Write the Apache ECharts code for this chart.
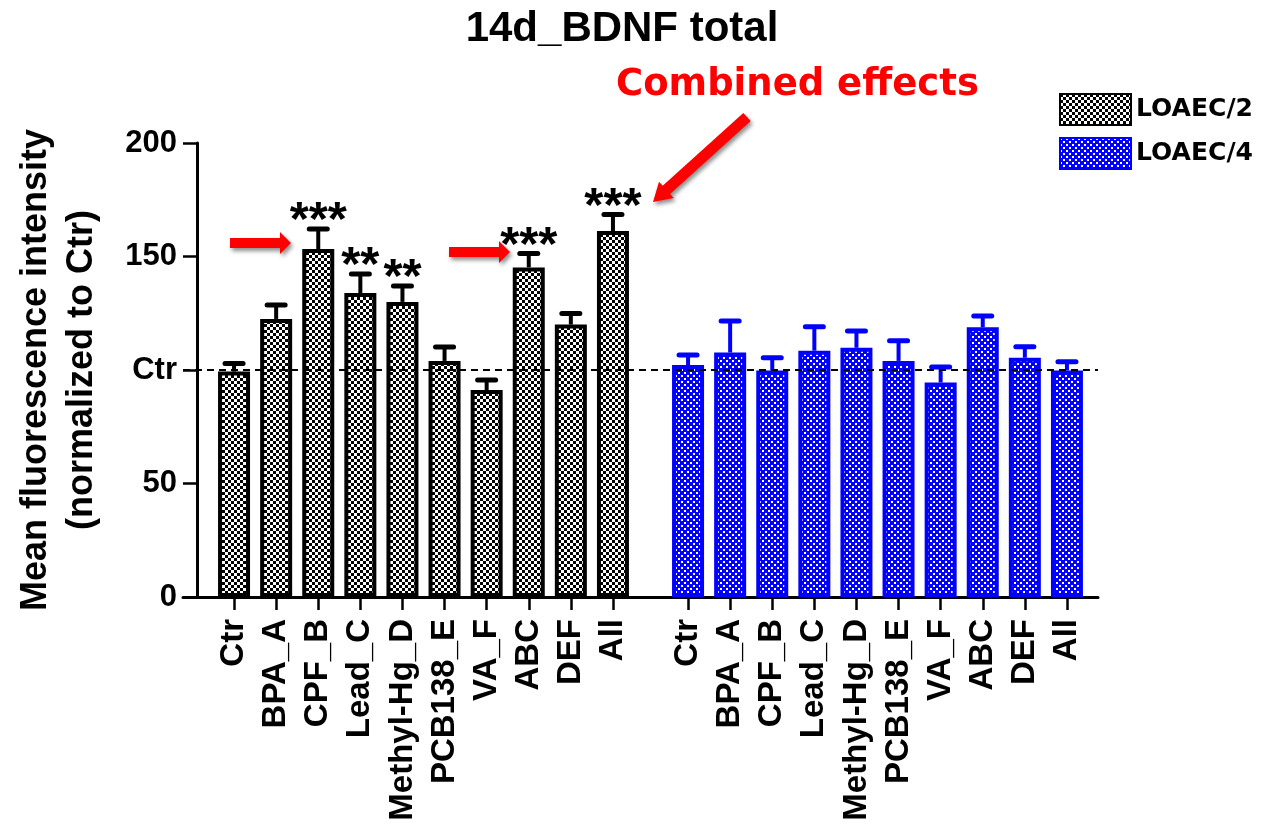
<!DOCTYPE html>
<html>
<head>
<meta charset="utf-8">
<script src="https://cdn.jsdelivr.net/npm/echarts@6/dist/echarts.min.js"></script>
<style>html,body{margin:0;padding:0;background:#fff;}#c{width:1281px;height:831px;}</style>
</head>
<body>
<div id="c"></div>
<script>
// ---- data ----
var categories = ['Ctr','BPA_A','CPF_B','Lead_C','Methyl-Hg_D','PCB138_E','VA_F','ABC','DEF','All'];
var loaec2Mean = [99.3, 122.5, 153.3, 133.9, 130.0, 104.0, 91.2, 145.2, 120.0, 161.2];
var loaec2Err  = [3.6, 6.1, 8.8, 8.4, 7.0, 6.1, 4.4, 6.1, 4.9, 7.3];
var loaec2Sig  = ['', '', '***', '**', '**', '', '', '***', '', '***'];
var loaec4Mean = [102.2, 107.7, 99.8, 108.5, 109.8, 104.0, 94.5, 118.8, 105.4, 99.8];
var loaec4Err  = [4.4, 13.9, 5.6, 10.6, 7.4, 8.9, 6.8, 5.0, 4.8, 3.8];
var yTicks = [0, 50, 100, 150, 200];
var yTickLabels = ['0', '50', 'Ctr', '150', '200'];
var seriesNames = ['LOAEC/2', 'LOAEC/4'];

function makePattern(fg, bg, cells) {
  var cv = document.createElement('canvas');
  cv.width = 6; cv.height = 6;
  var ctx = cv.getContext('2d');
  ctx.fillStyle = bg; ctx.fillRect(0, 0, 6, 6);
  ctx.fillStyle = fg;
  cells.forEach(function (c) { ctx.fillRect(c[0], c[1], c[2], c[3]); });
  return { image: cv, repeat: 'repeat' };
}
var blackPat = makePattern('#000', '#fff', [[0,0,3,3],[3,3,3,3]]);
var bluePat = makePattern('#fff', '#0000ff', [[0,0,2,2],[3,3,2,2]]);

var FONT = '"Liberation Sans", Arial, sans-serif';

function errRender(color) {
  return function (params, api) {
    var idx = api.value(0);
    var top = api.coord([idx, api.value(1) + api.value(2)]);
    var base = api.coord([idx, api.value(1)]);
    var sig = api.value(3);
    var children = [
      { type: 'line', shape: { x1: base[0], y1: base[1], x2: top[0], y2: top[1] },
        style: { stroke: color, lineWidth: 4 } },
      { type: 'line', shape: { x1: top[0] - 9, y1: top[1], x2: top[0] + 9, y2: top[1] },
        style: { stroke: color, lineWidth: 5, lineCap: 'round' } }
    ];
    if (sig) {
      children.push({ type: 'text', x: top[0], y: top[1] + 17,
        style: { text: sig, fill: '#000', font: 'bold 49px ' + FONT, align: 'center', verticalAlign: 'bottom' } });
    }
    return { type: 'group', children: children };
  };
}

var errData2 = categories.map(function (c, i) { return [i, loaec2Mean[i], loaec2Err[i], loaec2Sig[i]]; });
var errData4 = categories.map(function (c, i) { return [i, loaec4Mean[i], loaec4Err[i], '']; });

var chart = echarts.init(document.getElementById('c'), null, { renderer: 'canvas' });

var xLabelStyle = { rotate: 90, fontFamily: FONT, fontWeight: 'bold', fontSize: 33, color: '#000', margin: 22, interval: 0 };
var xTick = { show: true, alignWithLabel: true, length: 13, lineStyle: { color: '#000', width: 2.5 } };

chart.setOption({
  animation: false,
  title: [
    { text: '14d_BDNF total', left: 617, top: 3, textAlign: 'center',
      textStyle: { fontFamily: FONT, fontWeight: 'bold', fontSize: 42, color: '#000' } },
    { text: 'Combined effects', left: 611, top: 62,
      textStyle: { fontFamily: '"DejaVu Sans", sans-serif', fontWeight: 'bold', fontSize: 37, color: '#ff0000' } }
  ],
  legend: {
    orient: 'vertical', left: 1059, top: 93, padding: 0, itemWidth: 71, itemHeight: 31, itemGap: 11,
    icon: 'rect', selectedMode: false,
    textStyle: { fontFamily: '"DejaVu Sans", sans-serif', fontWeight: 'bold', fontSize: 25, color: '#000' },
    data: seriesNames
  },
  grid: [
    { left: 183, top: 143, width: 915, height: 454, outerBoundsMode: 'none', containLabel: false },
    { left: 213, top: 143, width: 421, height: 454, outerBoundsMode: 'none', containLabel: false },
    { left: 667, top: 143, width: 421, height: 454, outerBoundsMode: 'none', containLabel: false }
  ],
  xAxis: [
    { gridIndex: 0, type: 'value', min: 0, max: 1, axisLine: { show: true, lineStyle: { color: '#000', width: 3 } },
      axisTick: { show: false }, axisLabel: { show: false }, splitLine: { show: false } },
    { gridIndex: 1, type: 'category', data: categories, axisLine: { show: false }, axisTick: xTick, axisLabel: xLabelStyle },
    { gridIndex: 2, type: 'category', data: categories, axisLine: { show: false }, axisTick: xTick, axisLabel: xLabelStyle }
  ],
  yAxis: [
    { gridIndex: 0, type: 'value', min: 0, max: 200, show: false },
    { gridIndex: 1, type: 'value', min: 0, max: 200, interval: 50, offset: 16,
      axisLine: { show: true, lineStyle: { color: '#000', width: 3 } },
      axisTick: { show: true, length: 14, lineStyle: { color: '#000', width: 2.5 } },
      splitLine: { show: false },
      axisLabel: { fontFamily: FONT, fontWeight: 'bold', fontSize: 31, color: '#000', margin: 20,
        formatter: function (v) { var k = yTicks.indexOf(v); return k >= 0 ? yTickLabels[k] : ''; } },
      name: 'Mean fluorescence intensity\n(normalized to Ctr)', nameLocation: 'middle', nameGap: 92, nameRotate: 90,
      nameTextStyle: { fontFamily: FONT, fontWeight: 'bold', fontSize: 36, color: '#000', lineHeight: 46 } },
    { gridIndex: 2, type: 'value', min: 0, max: 200, show: false }
  ],
  series: [
    { type: 'line', xAxisIndex: 0, yAxisIndex: 0, data: [], z: 1, silent: true,
      markLine: { symbol: 'none', silent: true, label: { show: false },
        lineStyle: { color: '#000', width: 2, type: [7, 5] }, data: [{ yAxis: 100 }] } },
    { name: seriesNames[0], type: 'bar', xAxisIndex: 1, yAxisIndex: 1, data: loaec2Mean, barWidth: 32, z: 3,
      itemStyle: { color: blackPat, borderColor: '#000', borderWidth: 4 } },
    { name: seriesNames[1], type: 'bar', xAxisIndex: 2, yAxisIndex: 2, data: loaec4Mean, barWidth: 32, z: 3,
      itemStyle: { color: bluePat, borderColor: '#0000ff', borderWidth: 4 } },
    { type: 'custom', xAxisIndex: 1, yAxisIndex: 1, data: errData2, renderItem: errRender('#000'), z: 4, silent: true },
    { type: 'custom', xAxisIndex: 2, yAxisIndex: 2, data: errData4, renderItem: errRender('#0000ff'), z: 4, silent: true }
  ],
  graphic: [
    { type: 'polygon', z: 10, shape: { points: [[230,238],[280,238],[280,232],[291,243],[280,254],[280,248],[230,248]] },
      style: { fill: '#ff0000', shadowBlur: 4, shadowColor: 'rgba(0,0,0,0.45)', shadowOffsetX: 2, shadowOffsetY: 3 } },
    { type: 'polygon', z: 10, shape: { points: [[449,247],[499,247],[499,241],[510,252],[499,263],[499,257],[449,257]] },
      style: { fill: '#ff0000', shadowBlur: 4, shadowColor: 'rgba(0,0,0,0.45)', shadowOffsetX: 2, shadowOffsetY: 3 } },
    { type: 'polygon', z: 10, shape: { points: [[743.3,112.9],[662.7,185.8],[659.0,181.7],[653,202],[673.8,198.1],[670.1,194.0],[750.7,121.1]] },
      style: { fill: '#ff0000', shadowBlur: 4, shadowColor: 'rgba(0,0,0,0.45)', shadowOffsetX: 2, shadowOffsetY: 3 } }
  ]
});
</script>
</body>
</html>
